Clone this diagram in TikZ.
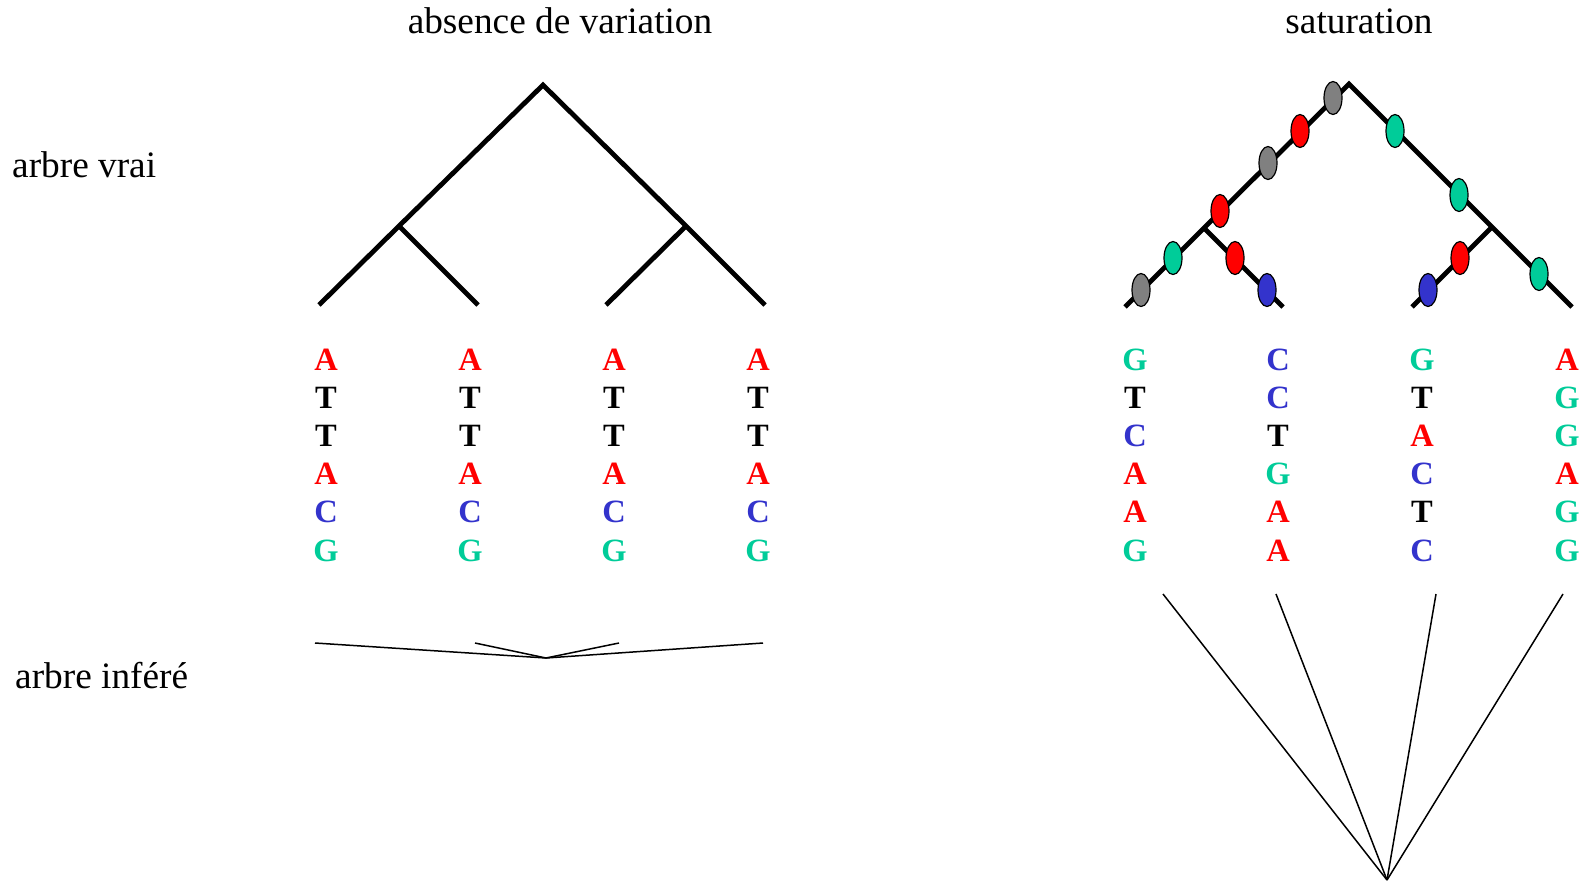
\documentclass[tikz,border=0pt]{standalone}
\usepackage{fontspec}
\setmainfont{Liberation Serif}
\usetikzlibrary{shapes.geometric}
\definecolor{nred}{HTML}{FF0000}
\definecolor{ngreen}{HTML}{00CC99}
\definecolor{nblue}{HTML}{3333CC}
\definecolor{ngray}{HTML}{808080}
\begin{document}
\begin{tikzpicture}[x=1pt,y=-1pt,
  branch/.style={line width=4.8pt, line join=miter},
  infer/.style={line width=1.5pt},
  ttl/.style={font=\fontsize{37.3}{44}\selectfont, inner sep=0pt},
  nuc/.style={font=\bfseries\fontsize{32.5}{38}\selectfont, anchor=base, inner sep=0pt},
  mut/.style={ellipse, draw=black, line width=1.2pt, minimum width=18pt, minimum height=33pt, inner sep=0pt, fill=#1},
]
\useasboundingbox (0,0) rectangle (1590,881);

% titles
\node[ttl, anchor=base] (t1) at (560,33) {absence de variation};
\node[ttl, anchor=base] (t2) at (1359,33) {saturation};
\node[ttl, anchor=base west] (t3) at (12,177) {arbre vrai};
\node[ttl, anchor=base west] (t4) at (15,688) {arbre inféré};

% ---------- left true tree ----------
\coordinate (Lroot) at (543,85);
\coordinate (La) at (399,226);
\coordinate (Lb) at (686,226);
\coordinate (L1) at (319,305);
\coordinate (L2) at (478,305);
\coordinate (L3) at (606,305);
\coordinate (L4) at (765,305);
\draw[branch] (L1) -- (La) -- (Lroot) -- (Lb) -- (L4);
\draw[branch] (La) -- (L2);
\draw[branch] (Lb) -- (L3);

% ---------- right true tree ----------
\coordinate (Rroot) at (1349,84);
\coordinate (Ra) at (1204,228);
\coordinate (Rb) at (1492,227);
\coordinate (R1) at (1125,307);
\coordinate (R2) at (1283,307);
\coordinate (R3) at (1412,307);
\coordinate (R4) at (1572,307);
\draw[branch] (R1) -- (Ra) -- (Rroot) -- (Rb) -- (R4);
\draw[branch] (Ra) -- (R2);
\draw[branch] (Rb) -- (R3);

% mutations
\node[mut=ngray]  (m1)  at (1333,98)  {};
\node[mut=nred]   (m2)  at (1300,131) {};
\node[mut=ngray]  (m3)  at (1268,163) {};
\node[mut=nred]   (m4)  at (1220,211) {};
\node[mut=ngreen] (m5)  at (1173,258) {};
\node[mut=ngray]  (m6)  at (1141,290) {};
\node[mut=nred]   (m7)  at (1235,258) {};
\node[mut=nblue]  (m8)  at (1267,290) {};
\node[mut=ngreen] (m9)  at (1395,131) {};
\node[mut=ngreen] (m10) at (1459,195) {};
\node[mut=ngreen] (m11) at (1539,274) {};
\node[mut=nred]   (m12) at (1460,258) {};
\node[mut=nblue]  (m13) at (1428,290) {};

% ---------- sequences ----------
\foreach \x [count=\c] in {326,470,614,758}{
  \foreach \l/\k [count=\r from 0] in {A/nred,T/black,T/black,A/nred,C/nblue,G/ngreen}
    \node[nuc, text=\k] (a\c-\r) at (\x,{370+38.2*\r}) {\l};
}
\foreach \l/\k [count=\r from 0] in {G/ngreen,T/black,C/nblue,A/nred,A/nred,G/ngreen}
  \node[nuc, text=\k] (b1-\r) at (1135,{370+38.2*\r}) {\l};
\foreach \l/\k [count=\r from 0] in {C/nblue,C/nblue,T/black,G/ngreen,A/nred,A/nred}
  \node[nuc, text=\k] (b2-\r) at (1278,{370+38.2*\r}) {\l};
\foreach \l/\k [count=\r from 0] in {G/ngreen,T/black,A/nred,C/nblue,T/black,C/nblue}
  \node[nuc, text=\k] (b3-\r) at (1422,{370+38.2*\r}) {\l};
\foreach \l/\k [count=\r from 0] in {A/nred,G/ngreen,G/ngreen,A/nred,G/ngreen,G/ngreen}
  \node[nuc, text=\k] (b4-\r) at (1567,{370+38.2*\r}) {\l};

% ---------- inferred trees ----------
\coordinate (Ic) at (546,658);
\coordinate (I1) at (315,643);
\coordinate (I2) at (475,643);
\coordinate (I3) at (619,643);
\coordinate (I4) at (763,643);
\draw[infer] (I1) -- (Ic) -- (I4);
\draw[infer] (I2) -- (Ic) -- (I3);

\coordinate (Jc) at (1387,880);
\coordinate (J1) at (1163,594);
\coordinate (J2) at (1276,594);
\coordinate (J3) at (1436,594);
\coordinate (J4) at (1563,594);
\draw[infer] (J1) -- (Jc);
\draw[infer] (J2) -- (Jc);
\draw[infer] (J3) -- (Jc);
\draw[infer] (J4) -- (Jc);
\end{tikzpicture}
\end{document}
